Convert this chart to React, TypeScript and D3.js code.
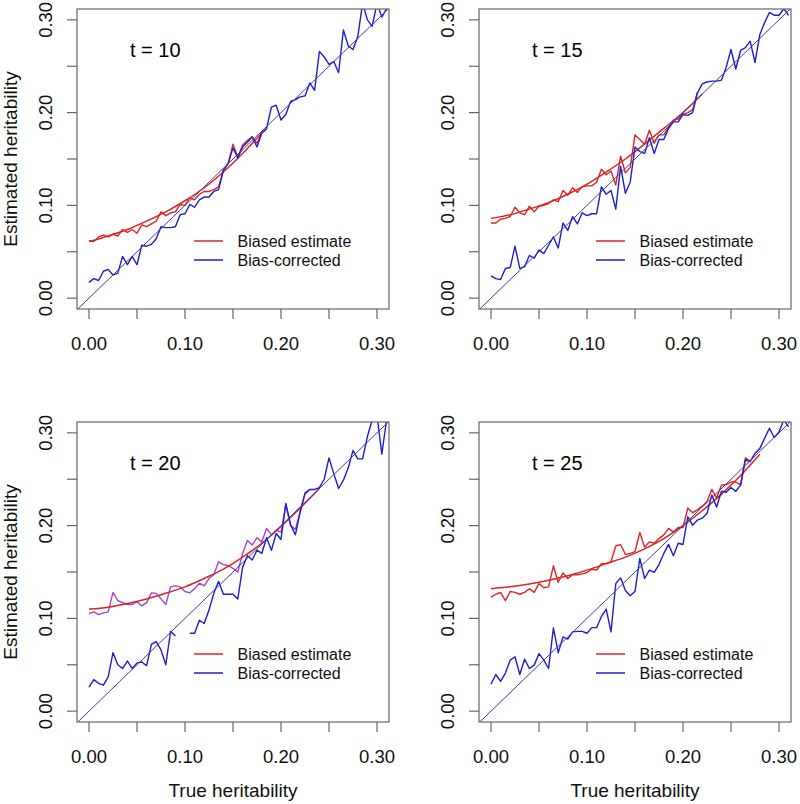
import React from "react";
import * as d3 from "d3";

// ---------- data ----------
const trueH = [0.000,0.005,0.010,0.015,0.020,0.025,0.030,0.035,0.040,0.045,0.050,0.055,0.060,0.065,0.070,0.075,0.080,0.085,0.090,0.095,0.100,0.105,0.110,0.115,0.120,0.125,0.130,0.135,0.140,0.145,0.150,0.155,0.160,0.165,0.170,0.175,0.180,0.185,0.190,0.195,0.200,0.205,0.210,0.215,0.220,0.225,0.230,0.235,0.240,0.245,0.250,0.255,0.260,0.265,0.270,0.275,0.280,0.285,0.290,0.295,0.300,0.305,0.310];

const biased10 = [0.062,0.061,0.066,0.068,0.066,0.069,0.067,0.074,0.071,0.074,0.070,0.079,0.077,0.080,0.083,0.093,0.089,0.092,0.093,0.101,0.100,0.108,0.106,0.112,0.115,0.115,0.117,0.120,0.138,0.145,0.166,0.152,0.165,0.170,0.174,0.167,0.178,0.182];
const corrected10 = [0.017,0.021,0.019,0.029,0.031,0.025,0.027,0.045,0.036,0.045,0.036,0.057,0.056,0.058,0.064,0.077,0.076,0.076,0.077,0.090,0.091,0.101,0.098,0.106,0.109,0.109,0.115,0.117,0.138,0.145,0.162,0.151,0.163,0.168,0.174,0.163,0.178,0.183,0.206,0.208,0.192,0.198,0.212,0.214,0.217,0.218,0.232,0.224,0.266,0.260,0.252,0.255,0.243,0.289,0.272,0.268,0.282,0.318,0.300,0.293,0.318,0.303,0.312];
const smooth10X = [0,0.02,0.04,0.06,0.08,0.10,0.12,0.14,0.16,0.18];
const smooth10Y = [0.061,0.067,0.074,0.083,0.093,0.105,0.119,0.136,0.156,0.178];

const biased15 = [0.081,0.081,0.085,0.086,0.088,0.098,0.092,0.090,0.099,0.093,0.099,0.100,0.102,0.106,0.104,0.116,0.111,0.119,0.114,0.120,0.121,0.121,0.125,0.139,0.133,0.137,0.122,0.153,0.135,0.141,0.176,0.171,0.166,0.181,0.167,0.176,0.176,0.184,0.192,0.193,0.198,0.200,0.203,0.222];
const corrected15 = [0.024,0.021,0.020,0.032,0.033,0.056,0.032,0.034,0.046,0.043,0.052,0.048,0.057,0.066,0.054,0.081,0.073,0.088,0.080,0.092,0.089,0.091,0.091,0.120,0.112,0.116,0.096,0.142,0.113,0.125,0.163,0.158,0.156,0.173,0.156,0.171,0.171,0.183,0.190,0.190,0.198,0.197,0.200,0.221,0.231,0.233,0.234,0.234,0.235,0.249,0.268,0.247,0.267,0.270,0.277,0.254,0.284,0.297,0.308,0.305,0.305,0.312,0.305];
const smooth15X = [0,0.02,0.04,0.06,0.08,0.10,0.12,0.14,0.16,0.18,0.20,0.22];
const smooth15Y = [0.086,0.090,0.096,0.103,0.112,0.123,0.136,0.150,0.166,0.183,0.200,0.220];

const biased20 = [0.105,0.107,0.104,0.106,0.107,0.128,0.119,0.117,0.115,0.115,0.118,0.1135,0.117,0.1275,0.127,0.121,0.115,0.134,0.135,0.134,0.129,0.1275,0.132,0.138,0.135,0.143,0.147,0.161,0.158,0.157,0.154,0.150,0.170,0.184,0.179,0.187,0.1825,0.197,0.190,0.195,0.193,0.222,0.200,0.196,0.215,0.234,0.239];
const corrected20 = [0.026,0.034,0.030,0.028,0.037,0.063,0.050,0.046,0.054,0.046,0.052,0.053,0.049,0.072,0.075,0.066,0.050,0.086,0.081,null,null,0.084,0.084,0.098,0.0945,0.109,0.127,0.140,0.126,0.126,0.126,0.121,0.155,0.1675,0.163,0.1735,0.170,0.187,0.1735,0.1915,0.185,0.224,0.201,0.190,0.215,0.235,0.239,0.239,0.241,0.250,0.273,0.256,0.240,0.249,0.262,0.281,0.272,0.272,0.296,0.314,0.319,0.277,0.314];
const smooth20X = [0,0.02,0.04,0.06,0.08,0.10,0.12,0.14,0.16,0.18,0.20,0.22,0.24];
const smooth20Y = [0.110,0.112,0.116,0.121,0.127,0.134,0.143,0.153,0.166,0.181,0.199,0.219,0.240];

const biased25 = [0.123,0.126,0.128,0.119,0.129,0.128,0.126,0.128,0.132,0.128,0.1376,0.133,0.134,0.1567,0.139,0.149,0.143,0.147,0.147,0.148,0.1495,0.153,0.152,0.159,0.159,0.161,0.178,0.1797,0.169,0.170,0.172,0.1926,0.1768,0.1825,0.181,0.186,0.190,0.197,0.193,0.198,0.198,0.219,0.214,0.217,0.221,0.226,0.239,0.230,0.2436,0.2443,0.247,0.247,0.244,0.273,0.2695];
const corrected25 = [0.029,0.0395,0.032,0.041,0.055,0.0586,0.0395,0.056,0.046,0.0496,0.062,0.055,0.046,0.0898,0.063,0.080,0.0776,0.0855,0.086,0.086,0.084,0.090,0.090,0.102,0.110,0.0855,0.1376,0.1437,0.130,0.1243,0.129,0.1646,0.143,0.152,0.1495,0.158,0.170,0.1797,0.1675,0.181,0.1797,0.2095,0.2005,0.206,0.208,0.213,0.233,0.220,0.237,0.236,0.241,0.237,0.2436,0.2706,0.269,0.278,0.283,0.294,0.305,0.295,0.301,0.314,0.3065];
const smooth25X = [0,0.02,0.04,0.06,0.08,0.10,0.12,0.14,0.16,0.18,0.20,0.22,0.24,0.26,0.28];
const smooth25Y = [0.132,0.134,0.137,0.141,0.146,0.152,0.159,0.166,0.175,0.186,0.200,0.216,0.234,0.254,0.277];

const panelTitles = ["t = 10", "t = 15", "t = 20", "t = 25"];
const tickValues = [0, 0.05, 0.1, 0.15, 0.2, 0.25, 0.3];
const labelValues = [0, 0.1, 0.2, 0.3];
const legendLabels = ["Biased estimate", "Bias-corrected"];
const xTitle = "True heritability";
const yTitle = "Estimated heritability";

// ---------- layout ----------
const W = 800, H = 804;
const BOX_W = 312, BOX_H = 300;
const FONT = "'Liberation Sans', Arial, Helvetica, sans-serif";
const RED = "#dd2424";
const BLUE = "#1e1ecc";
const DIAG = "#3c3cb0";
const PURPLE = "#a444d6";
const AXIS = "#666666";

const panels = [
  { left: 77, top: 9, title: panelTitles[0], biased: biased10, corrected: corrected10, sx: smooth10X, sy: smooth10Y, biasedColor: RED, yLab: true, xLab: false },
  { left: 479, top: 9, title: panelTitles[1], biased: biased15, corrected: corrected15, sx: smooth15X, sy: smooth15Y, biasedColor: RED, yLab: false, xLab: false },
  { left: 77, top: 422, title: panelTitles[2], biased: biased20, corrected: corrected20, sx: smooth20X, sy: smooth20Y, biasedColor: PURPLE, yLab: true, xLab: true },
  { left: 479, top: 422, title: panelTitles[3], biased: biased25, corrected: corrected25, sx: smooth25X, sy: smooth25Y, biasedColor: RED, yLab: false, xLab: true },
];

type P = typeof panels[number];

function Panel({ p, idx }: { p: P; idx: number }) {
  const x = d3.scaleLinear().domain([-0.0125, 0.3125]).range([p.left, p.left + BOX_W]);
  const y = d3.scaleLinear().domain([-0.0117, 0.3117]).range([p.top + BOX_H, p.top]);
  const fmt = d3.format(".2f");
  const line = d3
    .line<[number, number | null]>()
    .defined((d) => d[1] !== null)
    .x((d) => x(d[0]))
    .y((d) => y(d[1] as number));
  const smoothLine = d3
    .line<[number, number]>()
    .x((d) => x(d[0]))
    .y((d) => y(d[1]))
    .curve(d3.curveMonotoneX);
  const biasedPts = p.biased.map((v, i) => [trueH[i], v] as [number, number | null]);
  const corrPts = p.corrected.map((v, i) => [trueH[i], v] as [number, number | null]);
  const smoothPts = p.sx.map((v, i) => [v, p.sy[i]] as [number, number]);
  const [d0, d1] = x.domain();
  const clipId = `clip${idx}`;
  const bottom = p.top + BOX_H;
  return (
    <g>
      <defs>
        <clipPath id={clipId}>
          <rect x={p.left} y={p.top} width={BOX_W} height={BOX_H} />
        </clipPath>
      </defs>
      <g clipPath={`url(#${clipId})`}>
        <path d={line(biasedPts) || ""} fill="none" stroke={p.biasedColor} strokeWidth={1.4} strokeLinejoin="round" />
        <path d={smoothLine(smoothPts) || ""} fill="none" stroke={RED} strokeWidth={1.5} />
        <path d={line(corrPts) || ""} fill="none" stroke={BLUE} strokeWidth={1.4} strokeLinejoin="round" />
        <line x1={x(d0)} y1={y(d0)} x2={x(d1)} y2={y(d1)} stroke={DIAG} strokeWidth={1} />
      </g>
      <rect x={p.left} y={p.top} width={BOX_W} height={BOX_H} fill="none" stroke={AXIS} strokeWidth={1.2} />
      {tickValues.map((t) => (
        <g key={"x" + t}>
          <line x1={x(t)} x2={x(t)} y1={bottom} y2={bottom + 10} stroke={AXIS} strokeWidth={1.2} />
          <line x1={p.left} x2={p.left - 10} y1={y(t)} y2={y(t)} stroke={AXIS} strokeWidth={1.2} />
        </g>
      ))}
      {labelValues.map((t) => (
        <g key={"l" + t}>
          <text x={x(t)} y={bottom + 41} textAnchor="middle" fontSize={18.5} fontFamily={FONT} fill="#111">
            {fmt(t)}
          </text>
          <text
            transform={`translate(${p.left - 25},${y(t)}) rotate(-90)`}
            textAnchor="middle"
            fontSize={18.5}
            fontFamily={FONT}
            fill="#111"
          >
            {fmt(t)}
          </text>
        </g>
      ))}
      <text x={x(0.069)} y={p.top + 48} textAnchor="middle" fontSize={20} fontFamily={FONT} fill="#000">
        {p.title}
      </text>
      {legendLabels.map((lab, i) => {
        const ry = p.top + 232 + i * 19;
        return (
          <g key={lab}>
            <line x1={p.left + 117} x2={p.left + 146} y1={ry} y2={ry} stroke={i === 0 ? RED : BLUE} strokeWidth={1.5} />
            <text x={p.left + 160.5} y={ry + 6} fontSize={16} fontFamily={FONT} fill="#111">
              {lab}
            </text>
          </g>
        );
      })}
      {p.yLab && (
        <text
          transform={`translate(${p.left - 60},${p.top + BOX_H / 2}) rotate(-90)`}
          textAnchor="middle"
          fontSize={19}
          fontFamily={FONT}
          fill="#111"
        >
          {yTitle}
        </text>
      )}
      {p.xLab && (
        <text x={p.left + BOX_W / 2} y={bottom + 75} textAnchor="middle" fontSize={19} fontFamily={FONT} fill="#111">
          {xTitle}
        </text>
      )}
    </g>
  );
}

export default function App() {
  return (
    <svg
      width={W}
      height={H}
      viewBox={`0 0 ${W} ${H}`}
      style={{ position: "absolute", left: 0, top: 0, background: "#fff" }}
    >
      <rect x={0} y={0} width={W} height={H} fill="#fff" />
      {panels.map((p, i) => (
        <Panel key={i} p={p} idx={i} />
      ))}
    </svg>
  );
}
